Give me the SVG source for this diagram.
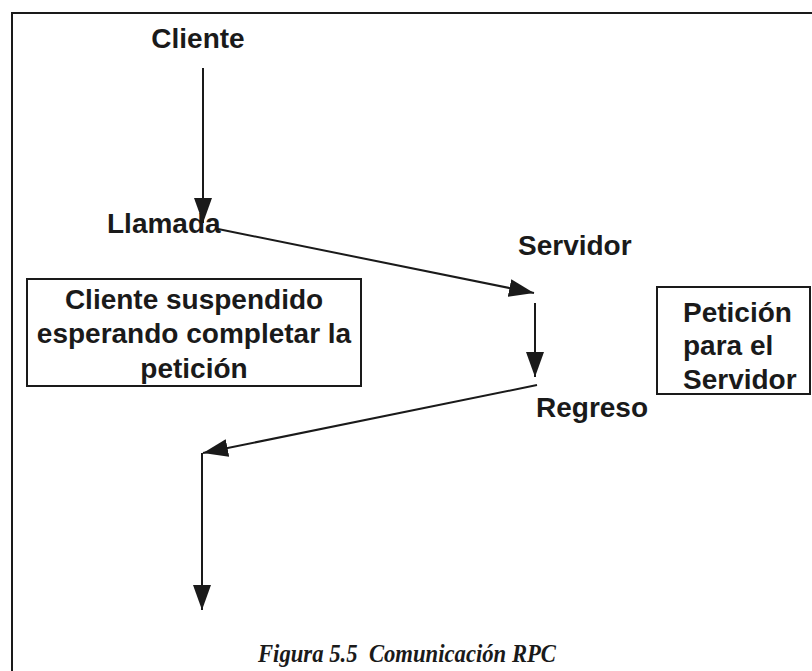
<svg xmlns="http://www.w3.org/2000/svg" width="812" height="671" viewBox="0 0 812 671">
<style>
.lbl{font-family:"Liberation Sans",Arial,sans-serif;font-weight:bold;font-size:28px;fill:#1a1a1a}
.box{fill:none;stroke:#1a1a1a;stroke-width:2}
.ln{fill:none;stroke:#1a1a1a;stroke-width:2}
.cap{font-family:"Liberation Serif","Times New Roman",serif;font-weight:bold;font-style:italic;font-size:25px;fill:#1a1a1a}
</style>
<defs>
<marker id="ah" markerUnits="userSpaceOnUse" markerWidth="26" markerHeight="18" refX="25" refY="9" orient="auto" viewBox="0 0 26 18">
<path d="M0,0 L25,9 L0,18 Z" fill="#1a1a1a"/>
</marker>
</defs>
<rect width="812" height="671" fill="#ffffff"/>
<g id="frame">
<path class="ln" d="M12,680 L12,13 L820,13"/>
</g>
<g id="connectors">
<line class="ln" x1="203" y1="68" x2="203" y2="223" marker-end="url(#ah)"/>
<line class="ln" x1="218" y1="229" x2="534" y2="293" marker-end="url(#ah)"/>
<line class="ln" x1="535" y1="303" x2="535" y2="377" marker-end="url(#ah)"/>
<line class="ln" x1="537" y1="385" x2="203" y2="453" marker-end="url(#ah)"/>
<line class="ln" x1="202" y1="453" x2="202" y2="610" marker-end="url(#ah)"/>
</g>
<g id="cliente">
<text class="lbl" x="198" y="48" text-anchor="middle">Cliente</text>
</g>
<g id="llamada">
<text class="lbl" x="107" y="233">Llamada</text>
</g>
<g id="servidor">
<text class="lbl" x="518" y="255">Servidor</text>
</g>
<g id="regreso">
<text class="lbl" x="536" y="417">Regreso</text>
</g>
<g id="cliente-suspendido">
<rect class="box" x="27" y="279" width="334" height="107"/>
<text class="lbl" x="194" y="309" text-anchor="middle">Cliente suspendido</text>
<text class="lbl" x="194" y="343" text-anchor="middle">esperando completar la</text>
<text class="lbl" x="194" y="378" text-anchor="middle">petición</text>
</g>
<g id="peticion">
<rect class="box" x="657" y="287" width="153" height="107"/>
<text class="lbl" x="683" y="322">Petición</text>
<text class="lbl" x="683" y="355">para el</text>
<text class="lbl" x="683" y="389">Servidor</text>
</g>
<g id="caption">
<text class="cap" x="258" y="662" textLength="298" lengthAdjust="spacingAndGlyphs" xml:space="preserve">Figura 5.5  Comunicación RPC</text>
</g>
</svg>
